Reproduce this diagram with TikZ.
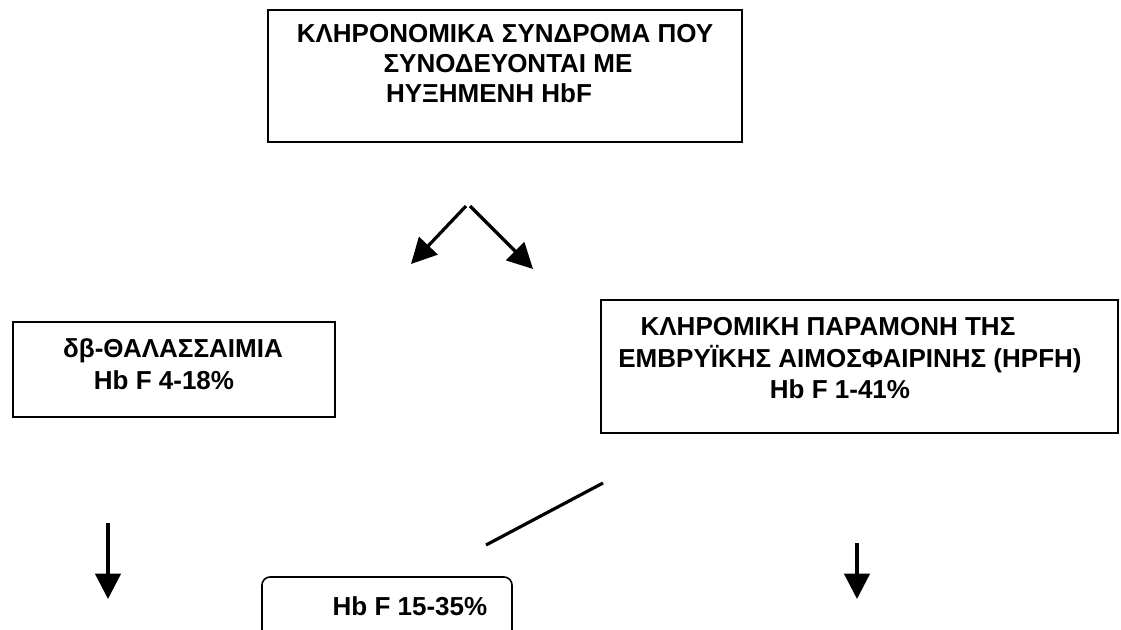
\documentclass[tikz,border=0pt]{standalone}
\usepackage{fontspec}
\setmainfont{Liberation Sans}
\usetikzlibrary{arrows.meta,fit}
\begin{document}
\begin{tikzpicture}[x=0.75pt,y=-0.75pt,
  box/.style={draw, line width=1.2pt, inner sep=0pt},
  lbl/.style={anchor=base, inner sep=0pt, font=\fontsize{19.5}{22}\selectfont\bfseries},
  arr/.style={line width=2.4pt, -{Triangle[length=19pt,width=19pt]}},
  plain/.style={line width=2.4pt},
]
\clip (0,0) rectangle (1121,629);
\fill[white] (0,0) rectangle (1121,629);

% boxes
\node[box, fit={(268,10) (742,142)}] (top) {};
\node[box, fit={(13,322) (335,417)}] (dbt) {};
\node[box, fit={(601,300) (1118,433)}] (hpfh) {};
\node[box, rounded corners=6pt, fit={(262,577) (512,680)}] (low) {};

% texts
\node[lbl] (t1) at (505,42) {ΚΛΗΡΟΝΟΜΙΚΑ ΣΥΝΔΡΟΜΑ ΠΟΥ};
\node[lbl] (t2) at (508,72) {ΣΥΝΟΔΕΥΟΝΤΑΙ ΜΕ};
\node[lbl] (t3) at (489,102) {ΗΥΞΗΜΕΝΗ HbF};

\node[lbl] (l1) at (173,357) {δβ-ΘΑΛΑΣΣΑΙΜΙΑ};
\node[lbl] (l2) at (164,389) {Hb F 4-18\%};

\node[lbl] (r1) at (828,335) {ΚΛΗΡΟΜΙΚΗ ΠΑΡΑΜΟΝΗ ΤΗΣ};
\node[lbl] (r2) at (850,367) {ΕΜΒΡΥΪΚΗΣ ΑΙΜΟΣΦΑΙΡΙΝΗΣ (HPFH)};
\node[lbl] (r3) at (840,398) {Hb F 1-41\%};

\node[lbl] (b1) at (410,615) {Hb F 15-35\%};

% connectors
\coordinate (apL) at (466,206);
\coordinate (apR) at (470,206);
\coordinate (tipL) at (411,264);
\coordinate (tipR) at (533,269);
\draw[arr] (apL) -- (tipL);
\draw[arr] (apR) -- (tipR);

\coordinate (lnA) at (603,483);
\coordinate (lnB) at (486,545);
\draw[plain] (lnA) -- (lnB);

\coordinate (dLs) at (108,523);
\coordinate (dLe) at (108,599);
\draw[arr] (dLs) -- (dLe);

\coordinate (dRs) at (857,543);
\coordinate (dRe) at (857,599);
\draw[arr] (dRs) -- (dRe);
\end{tikzpicture}
\end{document}
